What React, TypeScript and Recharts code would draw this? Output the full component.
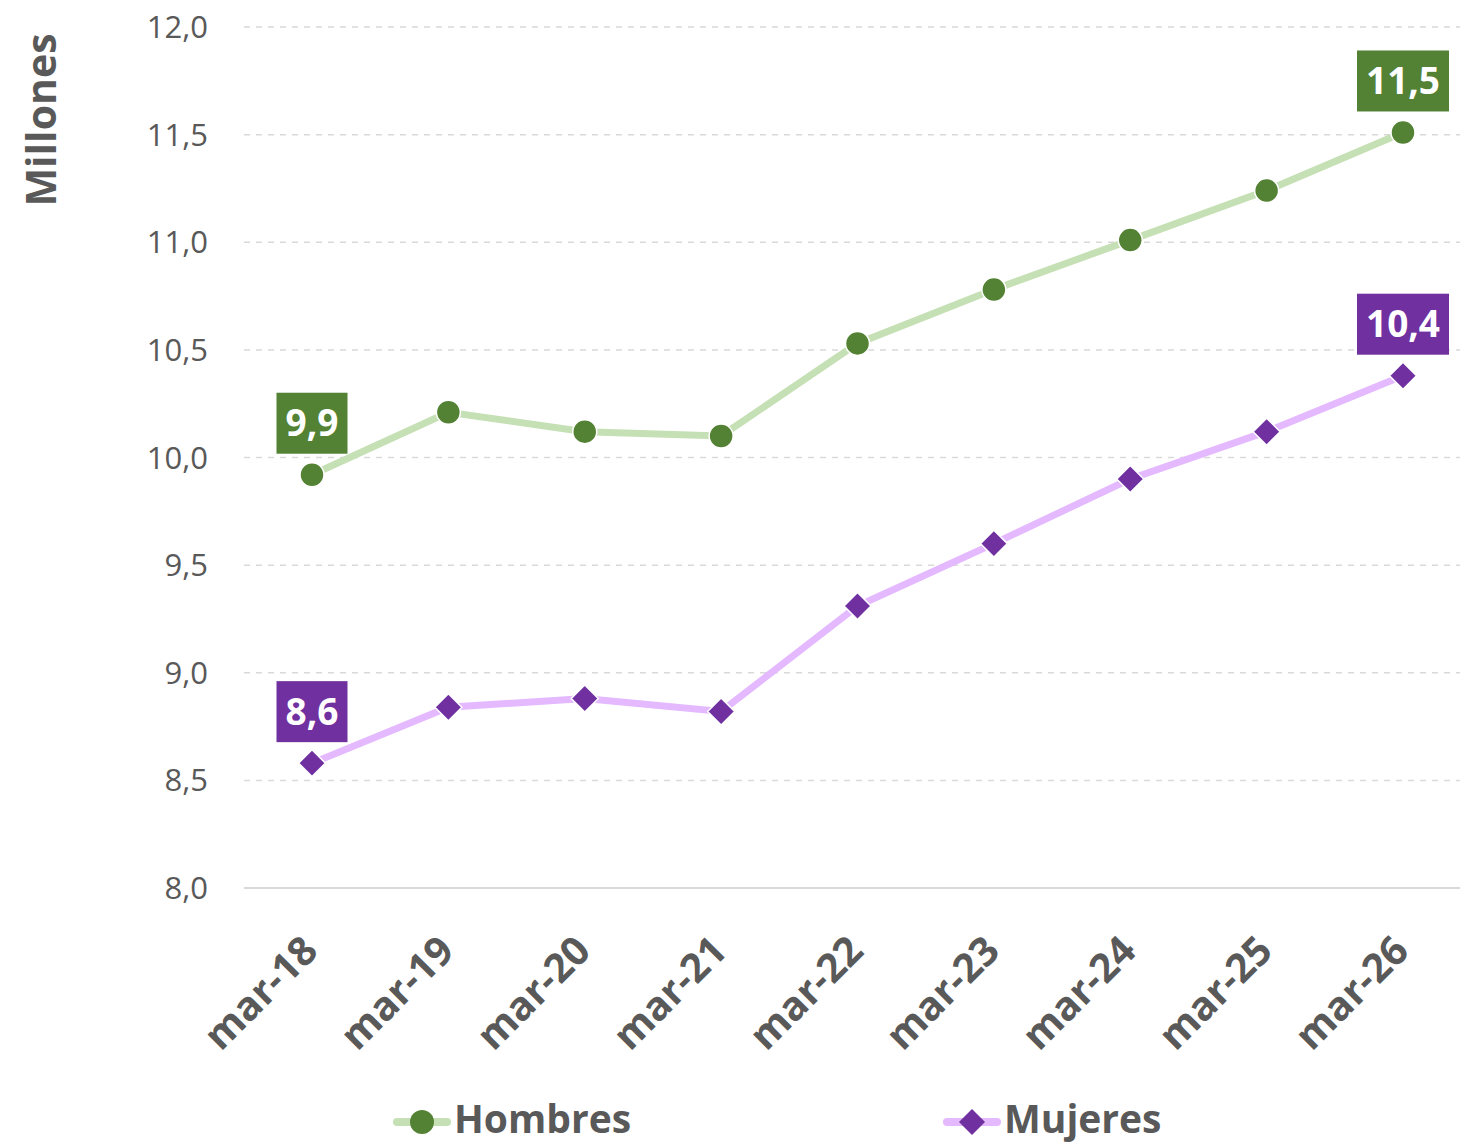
import React from "react";
import {
  CartesianGrid,
  LabelList,
  Legend,
  Line,
  LineChart,
  XAxis,
  YAxis,
} from "recharts";

const meses = [
  "mar-18",
  "mar-19",
  "mar-20",
  "mar-21",
  "mar-22",
  "mar-23",
  "mar-24",
  "mar-25",
  "mar-26",
];
const hombres = [9.92, 10.21, 10.12, 10.1, 10.53, 10.78, 11.01, 11.24, 11.51];
const mujeres = [8.58, 8.84, 8.88, 8.82, 9.31, 9.6, 9.9, 10.12, 10.38];
const yTicks = [8, 8.5, 9, 9.5, 10, 10.5, 11, 11.5, 12];

const data = meses.map((mes, i) => ({
  mes,
  Hombres: hombres[i],
  Mujeres: mujeres[i],
}));

const FONT = "'Open Sans', sans-serif";
const GRAY = "#595959";
const GREEN = "#548235";
const GREEN_LIGHT = "#C5E0B4";
const PURPLE = "#7030A0";
const PURPLE_LIGHT = "#E4B9FF";

const fmt = (v: number) => v.toFixed(1).replace(".", ",");

function XTick({ x, y, payload }: any) {
  return (
    <g transform={`translate(${x + 8},${y + 57})`}>
      <text
        textAnchor="end"
        transform="rotate(-45)"
        fontSize={40}
        fontWeight={700}
        fill={GRAY}
        fontFamily={FONT}
      >
        {payload.value}
      </text>
    </g>
  );
}

function CircleDot({ cx, cy, index }: any) {
  return (
    <circle
      key={`c-${index}`}
      cx={cx}
      cy={cy}
      r={12}
      fill={GREEN}
      stroke="#FFFFFF"
      strokeWidth={1.5}
    />
  );
}

function DiamondDot({ cx, cy, index }: any) {
  const s = 13.5;
  return (
    <polygon
      key={`d-${index}`}
      points={`${cx},${cy - s} ${cx + s},${cy} ${cx},${cy + s} ${cx - s},${cy}`}
      fill={PURPLE}
      stroke="#FFFFFF"
      strokeWidth={1.5}
    />
  );
}

function boxLabel(color: string) {
  return (props: any) => {
    const { x, y, value, index } = props;
    if (index !== 0 && index !== meses.length - 1) return null;
    const text = fmt(value);
    const w = text.length * 21 + 8;
    const h = 61;
    const top = y - 21 - h;
    return (
      <g key={`l-${index}`}>
        <rect x={x - w / 2} y={top} width={w} height={h} fill={color} />
        <text
          x={x}
          y={top + h / 2 + 13}
          textAnchor="middle"
          fontSize={37}
          fontWeight={700}
          fill="#FFFFFF"
          fontFamily={FONT}
        >
          {text}
        </text>
      </g>
    );
  };
}

function LegendContent({ payload }: any) {
  const items = [
    { key: "Hombres", x: 393, light: GREEN_LIGHT, dark: GREEN, shape: "circle" },
    { key: "Mujeres", x: 943, light: PURPLE_LIGHT, dark: PURPLE, shape: "diamond" },
  ];
  return (
    <svg width={1460} height={55}>
      {(payload || []).map((entry: any) => {
        const it = items.find((i) => i.key === entry.value);
        if (!it) return null;
        const cy = 32;
        const cx = it.x + 29;
        return (
          <g key={entry.value}>
            <line
              x1={it.x + 4}
              x2={it.x + 54}
              y1={cy}
              y2={cy}
              stroke={it.light}
              strokeWidth={8}
              strokeLinecap="round"
            />
            {it.shape === "circle" ? (
              <circle cx={cx} cy={cy} r={12} fill={it.dark} />
            ) : (
              <polygon
                points={`${cx},${cy - 13} ${cx + 13},${cy} ${cx},${cy + 13} ${cx - 13},${cy}`}
                fill={it.dark}
              />
            )}
            <text
              x={it.x + 61}
              y={43}
              fontSize={39}
              fontWeight={700}
              fill={GRAY}
              fontFamily={FONT}
            >
              {entry.value}
            </text>
          </g>
        );
      })}
    </svg>
  );
}

export default function App() {
  return (
    <div
      style={{
        position: "absolute",
        left: 0,
        top: 0,
        width: 1460,
        height: 1145,
        overflow: "hidden",
        background: "#FFFFFF",
        fontFamily: FONT,
      }}
    >
      <LineChart
        width={1480}
        height={1145}
        data={data}
        margin={{ top: 27, right: 9, left: 0, bottom: 12 }}
      >
        <CartesianGrid
          horizontal
          vertical={false}
          stroke="#D9D9D9"
          strokeWidth={1.5}
          strokeDasharray="6 6"
        />
        <XAxis
          dataKey="mes"
          height={190}
          padding={{ left: 68, right: 68 }}
          axisLine={{ stroke: "#D9D9D9", strokeWidth: 2 }}
          tickLine={false}
          interval={0}
          tick={<XTick />}
        />
        <YAxis
          width={244}
          domain={[8, 12]}
          ticks={yTicks}
          tickFormatter={fmt}
          axisLine={false}
          tickLine={false}
          tickMargin={30}
          tick={{ fill: GRAY, fontSize: 31, fontFamily: FONT }}
          label={() => (
            <text
              x={56}
              y={120}
              transform="rotate(-90 56 120)"
              textAnchor="middle"
              fontSize={41}
              fontWeight={700}
              fill={GRAY}
              fontFamily={FONT}
            >
              Millones
            </text>
          )}
        />
        <Legend
          verticalAlign="bottom"
          content={<LegendContent />}
          wrapperStyle={{ left: 0, top: 1090, width: 1460, height: 55 }}
        />
        <Line
          dataKey="Hombres"
          stroke={GREEN_LIGHT}
          strokeWidth={7}
          dot={<CircleDot />}
          activeDot={false}
          isAnimationActive={false}
        >
          <LabelList dataKey="Hombres" content={boxLabel(GREEN)} />
        </Line>
        <Line
          dataKey="Mujeres"
          stroke={PURPLE_LIGHT}
          strokeWidth={7}
          dot={<DiamondDot />}
          activeDot={false}
          isAnimationActive={false}
        >
          <LabelList dataKey="Mujeres" content={boxLabel(PURPLE)} />
        </Line>
      </LineChart>
    </div>
  );
}
